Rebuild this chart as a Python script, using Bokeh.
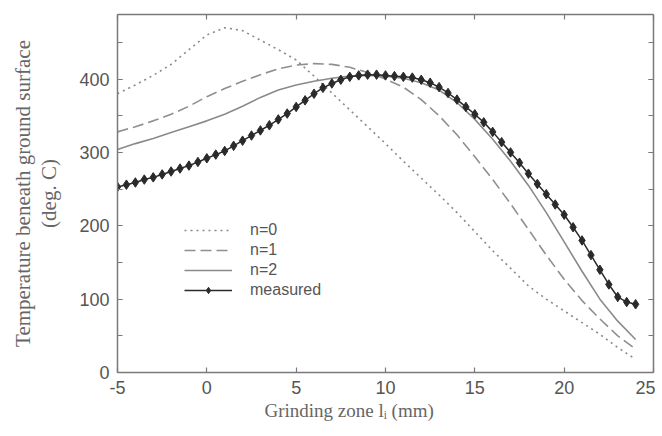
from bokeh.plotting import figure
from bokeh.models import Range1d, LinearAxis, SingleIntervalTicker, Legend, LegendItem, PrintfTickFormatter, Title
from bokeh.embed import file_html
from bokeh.resources import INLINE

x_model = [-5, -4, -3, -2, -1, 0, 1, 2, 3, 4, 5, 6, 7, 8, 9, 10, 11, 12, 13, 14, 15,
           16, 17, 18, 19, 20, 21, 22, 23, 24]
n0 = [380, 392, 405, 420, 440, 460, 470, 466, 453, 440, 426, 404, 381, 358, 335, 312,
      288, 265, 242, 218, 192, 166, 142, 118, 100, 84, 68, 52, 34, 18]
n1 = [328, 335, 343, 352, 363, 376, 387, 397, 406, 414, 419, 421, 420, 416, 409, 400,
      389, 372, 350, 324, 294, 263, 230, 195, 160, 127, 98, 73, 50, 32]
n2 = [304, 312, 319, 327, 335, 343, 352, 363, 375, 385, 392, 397, 401, 404, 405, 404,
      401, 395, 385, 368, 345, 318, 288, 255, 218, 178, 138, 100, 70, 45]

x_meas = [-5, -4.5, -4, -3.5, -3, -2.5, -2, -1.5, -1, -0.5, 0, 0.5, 1, 1.5, 2, 2.5, 3,
          3.5, 4, 4.5, 5, 5.5, 6, 6.5, 7, 7.5, 8, 8.5, 9, 9.5, 10, 10.5, 11, 11.5, 12,
          12.5, 13, 13.5, 14, 14.5, 15, 15.5, 16, 16.5, 17, 17.5, 18, 18.5, 19, 19.5,
          20, 20.5, 21, 21.5, 22, 22.5, 23, 23.5, 24]
measured = [253, 256, 259, 263, 266, 270, 274, 278, 282, 287, 292, 297, 302, 309, 316,
            323, 330, 337, 345, 353, 362, 371, 380, 388, 394, 399, 403, 405, 406, 406,
            405, 404, 403, 402, 399, 395, 389, 381, 372, 362, 352, 341, 328, 314, 300,
            286, 271, 257, 243, 229, 215, 198, 180, 160, 140, 120, 103, 96, 93]

labels = ["n=0", "n=1", "n=2", "measured"]
x_title = "Grinding zone lᵢ (mm)"
y_title = "Temperature beneath ground surface\n(deg. C)"

p = figure(width=655, height=429, output_backend="svg", toolbar_location=None,
           x_range=Range1d(-5, 25), y_range=Range1d(0, 488),
           min_border_left=117, min_border_right=2, min_border_top=14, min_border_bottom=57)
p.grid.visible = False
p.outline_line_color = None
p.background_fill_color = "white"
p.border_fill_color = "white"

AX = "#7a7a7a"
TXT = "#555555"

def style_axis(ax, show_labels):
    ax.axis_line_color = AX
    ax.axis_line_width = 1.5
    ax.major_tick_line_color = AX
    ax.minor_tick_line_color = AX
    ax.major_tick_in = 5
    ax.major_tick_out = 0
    ax.minor_tick_in = 5
    ax.minor_tick_out = 0
    ax.major_tick_line_width = 1.2
    ax.minor_tick_line_width = 1.2
    if not show_labels:
        ax.major_label_text_font_size = "0px"
        ax.major_label_text_color = None

# bottom axis
xa = p.xaxis[0]
xa.ticker = SingleIntervalTicker(interval=5, num_minor_ticks=0)
xa.formatter = PrintfTickFormatter(format="%d")
style_axis(xa, True)
xa.major_label_text_font = "Liberation Sans"
xa.major_label_text_font_size = "18px"
xa.major_label_text_color = TXT
xa.major_label_standoff = 8

ya = p.yaxis[0]
ya.ticker = SingleIntervalTicker(interval=100, num_minor_ticks=2)
ya.formatter = PrintfTickFormatter(format="%d")
style_axis(ya, True)
ya.major_label_text_font = "Liberation Sans"
ya.major_label_text_font_size = "18px"
ya.major_label_text_color = TXT
ya.major_label_standoff = 8
ya.axis_label = y_title
ya.axis_label_text_font = "Liberation Serif"
ya.axis_label_text_font_style = "normal"
ya.axis_label_text_font_size = "21px"
ya.axis_label_text_line_height = 1.1
ya.axis_label_text_color = "#666666"
ya.axis_label_standoff = 15

top = LinearAxis(ticker=SingleIntervalTicker(interval=5, num_minor_ticks=0))
style_axis(top, False)
p.add_layout(top, "above")
right = LinearAxis(ticker=SingleIntervalTicker(interval=100, num_minor_ticks=2))
style_axis(right, False)
p.add_layout(right, "right")

# x-axis title, placed like the original (left of centre)
xt = Title(text=x_title, align="left", offset=147, standoff=2,
           text_font="Liberation Serif", text_font_size="19px",
           text_font_style="normal", text_color="#666666")
p.add_layout(xt, "below")

r0 = p.line(x_model, n0, line_color="#8a8a8a", line_width=1.6, line_dash="2 4")
r1 = p.line(x_model, n1, line_color="#8f8f8f", line_width=1.6, line_dash="11 5")
r2 = p.line(x_model, n2, line_color="#8a8a8a", line_width=1.6)
rm_line = p.line(x_meas, measured, line_color="#2a2a2a", line_width=1.5)
rm_pts = p.scatter(x_meas, measured, marker="diamond", size=9.5, fill_color="#2a2a2a",
                   line_color="#2a2a2a")

legend = Legend(items=[
    LegendItem(label=labels[0], renderers=[r0]),
    LegendItem(label=labels[1], renderers=[r1]),
    LegendItem(label=labels[2], renderers=[r2]),
    LegendItem(label=labels[3], renderers=[rm_line, rm_pts]),
], location=(67, 73))
legend.border_line_color = None
legend.background_fill_alpha = 0
legend.padding = 0
legend.margin = 0
legend.spacing = 2
legend.glyph_width = 48
legend.glyph_height = 16
legend.label_height = 16
legend.label_standoff = 18
legend.label_text_font = "Liberation Sans"
legend.label_text_font_size = "16px"
legend.label_text_color = TXT
p.add_layout(legend, "center")

open("out.html", "w").write(file_html(p, INLINE))
